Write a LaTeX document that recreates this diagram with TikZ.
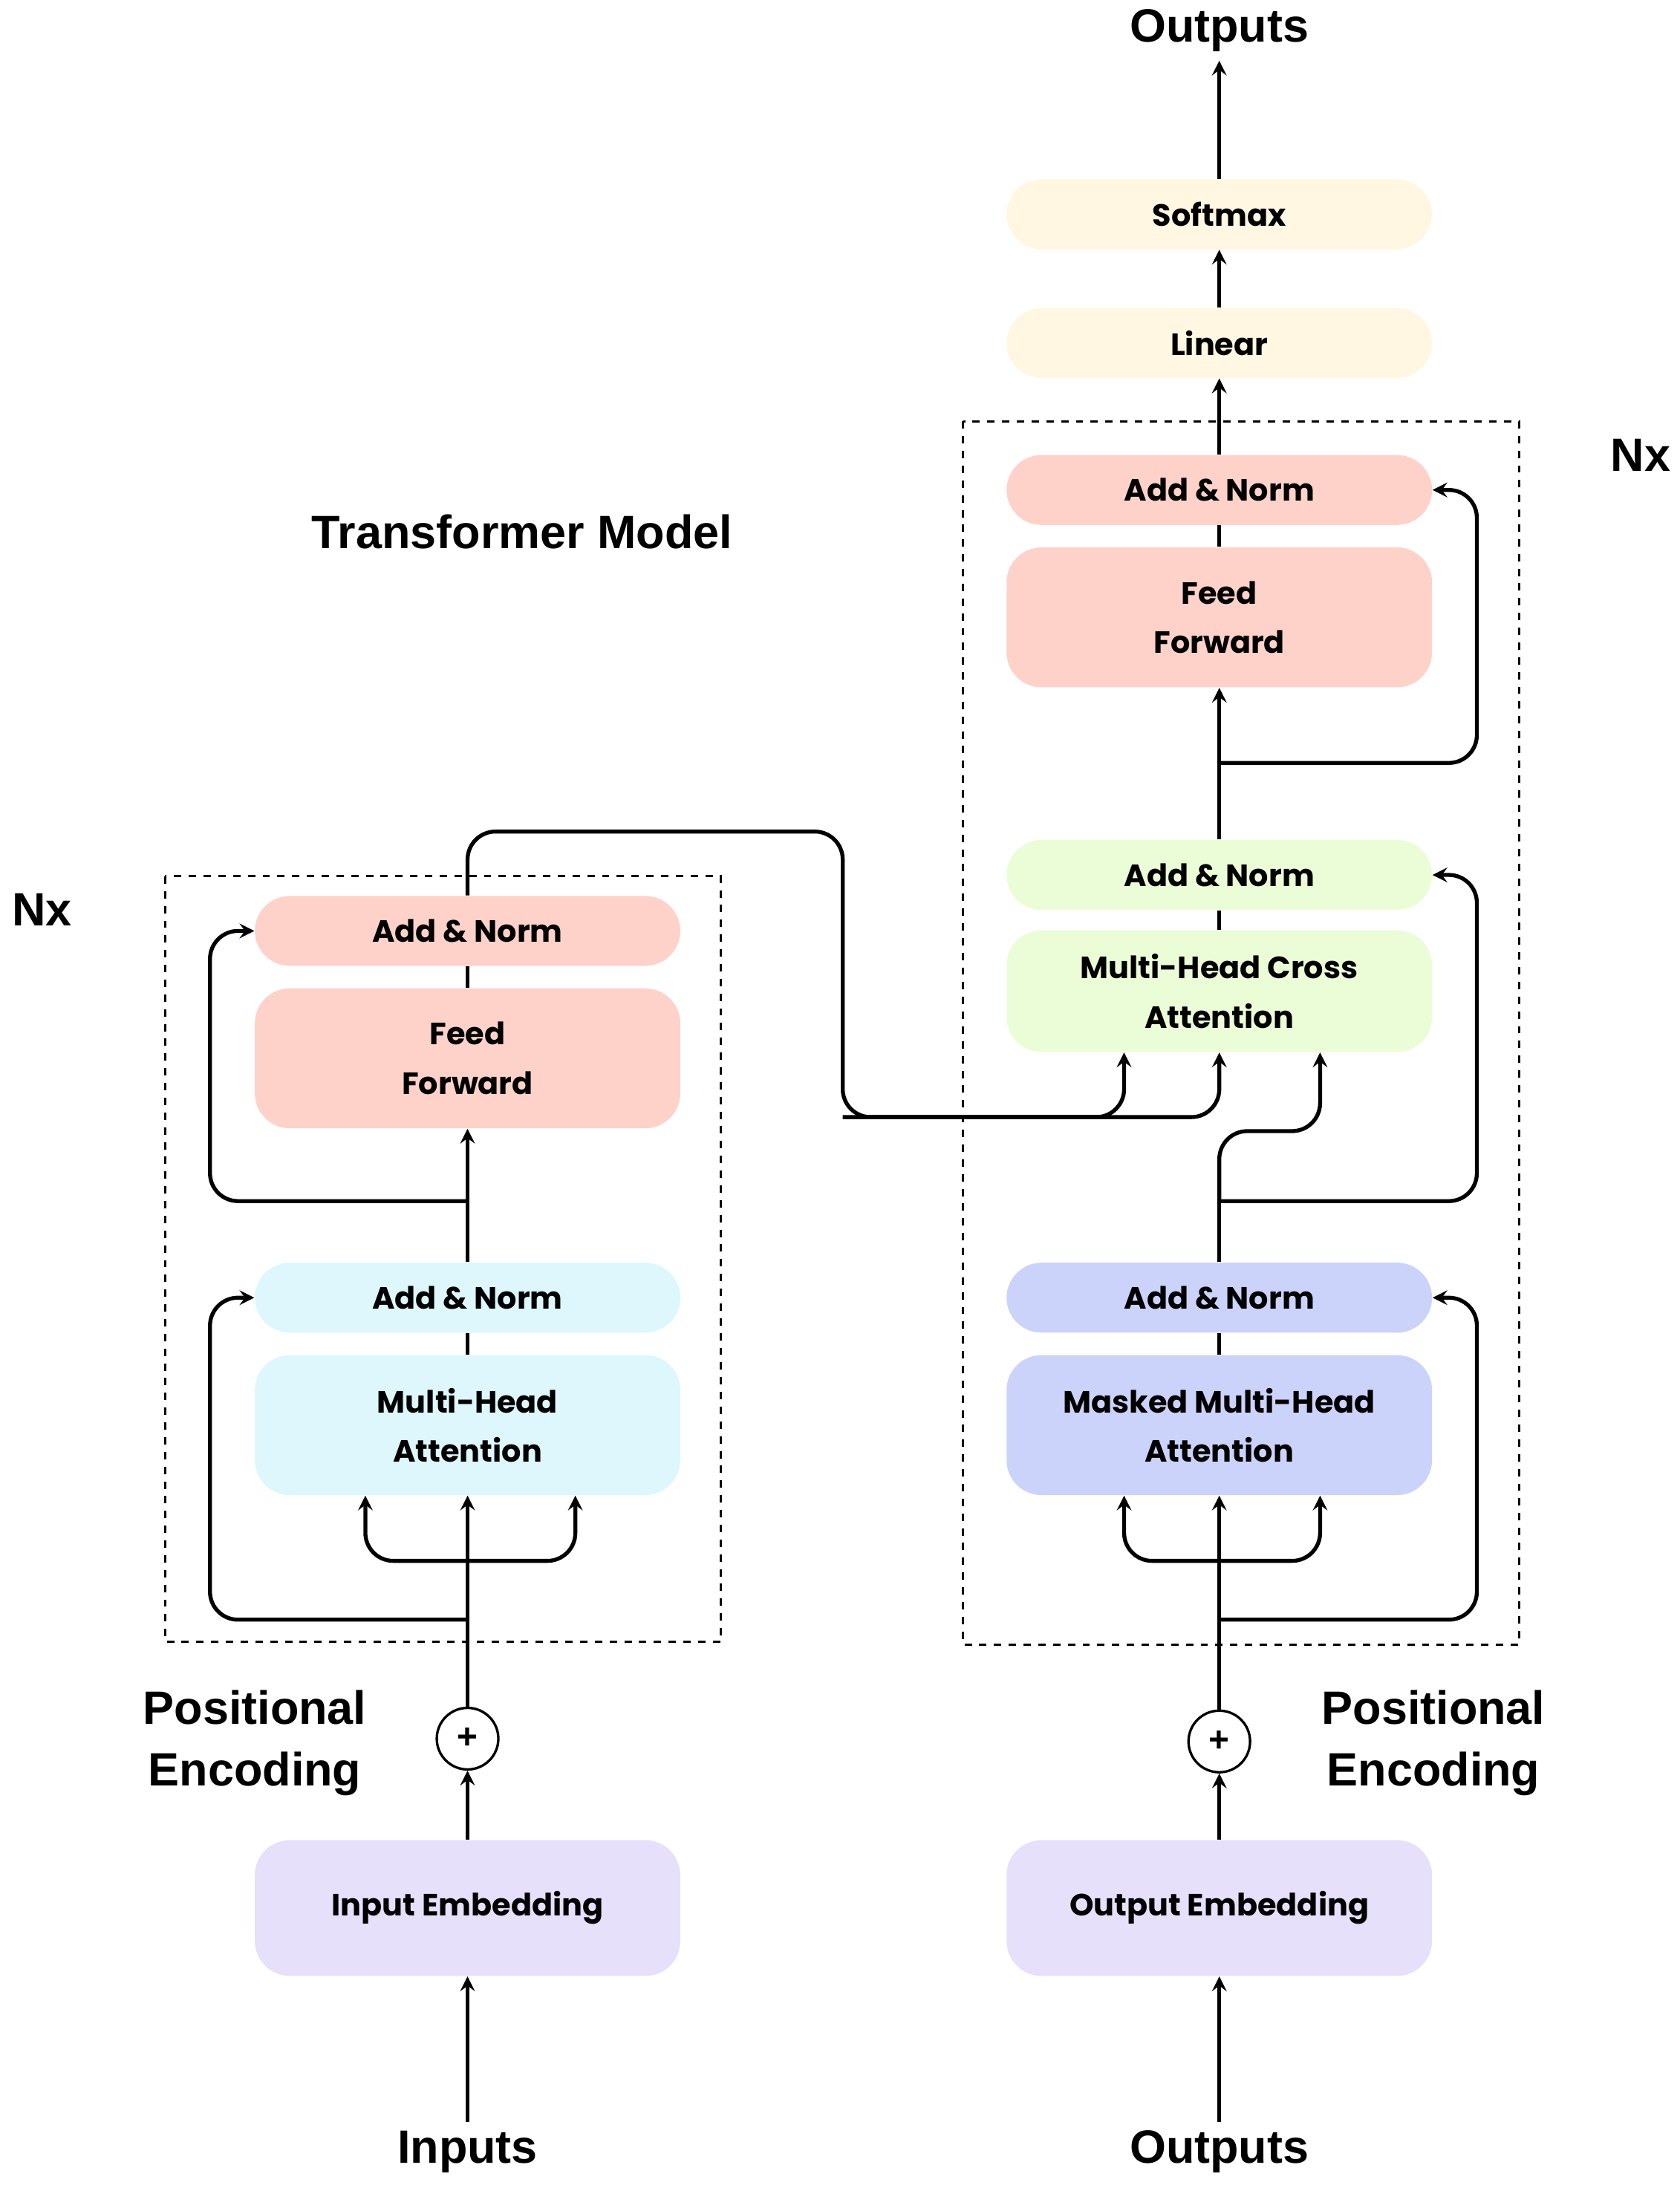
\documentclass[tikz,border=0pt]{standalone}
\usepackage{fontspec}
\setmainfont{Liberation Sans}
\newfontfamily\boxfont{Poppins}
\usetikzlibrary{arrows,shapes,positioning,calc}
\definecolor{ffpink}{HTML}{FFD2C9}
\definecolor{mhacyan}{HTML}{DDF7FC}
\definecolor{maskblue}{HTML}{CBD3FB}
\definecolor{crossgreen}{HTML}{EBFDD7}
\definecolor{outyellow}{HTML}{FFF7E1}
\definecolor{embpurple}{HTML}{E6E0FB}
\begin{document}
\begin{tikzpicture}[x=0.02cm, y=-0.02cm,
    block/.style={rectangle, rounded corners=0.5cm, minimum width=6.08cm, align=center, font=\boxfont\bfseries\fontsize{12.5}{20}\selectfont},
    thin block/.style={block, minimum height=1cm},
    tall block/.style={block, minimum height=2cm},
    title/.style={font=\bfseries\fontsize{19}{25}\selectfont, align=center},
    flow/.style={->, line width=1.6pt, >=stealth, rounded corners=0.4cm},
    link/.style={line width=1.6pt, rounded corners=0.4cm},
    stack/.style={draw, dashed, line width=0.9pt}
]
\useasboundingbox (0,0) rectangle (1200,1563);

% Stacks
\draw[stack] (118,626) rectangle (515,1173);
\draw[stack] (688,301) rectangle (1085,1175);

% Encoder
\node[thin block, fill=ffpink] (encnorm2) at (334,665) {Add \& Norm};
\node[tall block, fill=ffpink] (encff) at (334,756) {Feed\\Forward};
\node[thin block, fill=mhacyan] (encnorm1) at (334,927) {Add \& Norm};
\node[tall block, fill=mhacyan] (encmha) at (334,1018) {Multi-Head\\Attention};
\node[block, minimum height=1.94cm, fill=embpurple] (inemb) at (334,1363) {Input Embedding};
\node[circle, draw, line width=1pt, minimum size=0.88cm, inner sep=0pt, font=\bfseries\Large] (encplus) at (334,1242) {+};

% Decoder
\node[thin block, fill=outyellow] (softmax) at (871,153) {Softmax};
\node[thin block, fill=outyellow] (linear) at (871,245) {Linear};
\node[thin block, fill=ffpink] (decnorm3) at (871,350) {Add \& Norm};
\node[tall block, fill=ffpink] (decff) at (871,441) {Feed\\Forward};
\node[thin block, fill=crossgreen] (decnorm2) at (871,625) {Add \& Norm};
\node[block, minimum height=1.74cm, fill=crossgreen] (cross) at (871,708) {Multi-Head Cross\\Attention};
\node[thin block, fill=maskblue] (decnorm1) at (871,927) {Add \& Norm};
\node[tall block, fill=maskblue] (masked) at (871,1018) {Masked Multi-Head\\Attention};
\node[block, minimum height=1.94cm, fill=embpurple] (outemb) at (871,1363) {Output Embedding};
\node[circle, draw, line width=1pt, minimum size=0.88cm, inner sep=0pt, font=\bfseries\Large] (decplus) at (871,1244) {+};

% Labels
\node[title] (inputs) at (334,1537) {Inputs};
\node[title] (outputs) at (871,1537) {Outputs};
\node[title] (topout) at (871,22) {Outputs};
\node[title] (encpos) at (182,1245) {Positional\\Encoding};
\node[title] (decpos) at (1024,1245) {Positional\\Encoding};
\node[title] (encnx) at (30,650) {Nx};
\node[title] (decnx) at (1172,325) {Nx};
\node[title] (model) at (373,380) {Transformer Model};

% Encoder connectors
\draw[flow] (inputs) -- (inemb);
\draw[flow] (inemb) -- (encplus);
\draw[flow] (encplus) -- (encmha);
\coordinate (encsplit) at (334,1115);
\draw[flow] (encsplit) -| ($(encmha.south)+(-73,0)$);
\draw[flow] (encsplit) -| ($(encmha.south)+(77,0)$);
\draw[flow] (334,1157) -| (150,927) -- (encnorm1.west);
\draw[link] (encnorm1) -- (encmha);
\draw[flow] (encnorm1) -- (encff);
\draw[flow] (334,858) -| (150,665) -- (encnorm2.west);
\draw[link] (encnorm2) -- (encff);
\coordinate (memory) at (602,798);
\draw[flow] (encnorm2.north) |- (602,594) -- (memory) -| ($(cross.south)+(-68,0)$);
\draw[flow] (memory) -| (cross.south);

% Decoder connectors
\draw[flow] (outputs) -- (outemb);
\draw[flow] (outemb) -- (decplus);
\draw[flow] (decplus) -- (masked);
\coordinate (decsplit) at (871,1115);
\draw[flow] (decsplit) -| ($(masked.south)+(-68,0)$);
\draw[flow] (decsplit) -| ($(masked.south)+(72,0)$);
\draw[flow] (871,1157) -| (1055,927) -- (decnorm1.east);
\draw[link] (decnorm1) -- (masked);
\draw[link] (decnorm1.north) -- (871,858);
\draw[flow] (871,858) -| (1055,625) -- (decnorm2.east);
\draw[flow] (871,858) |- (943,808) -- ($(cross.south)+(72,0)$);
\draw[link] (decnorm2) -- (cross);
\draw[flow] (decnorm2) -- (decff);
\draw[flow] (871,545) -| (1055,350) -- (decnorm3.east);
\draw[link] (decnorm3) -- (decff);
\draw[flow] (decnorm3) -- (linear);
\draw[flow] (linear) -- (softmax);
\draw[flow] (softmax) -- (topout);
\end{tikzpicture}
\end{document}
